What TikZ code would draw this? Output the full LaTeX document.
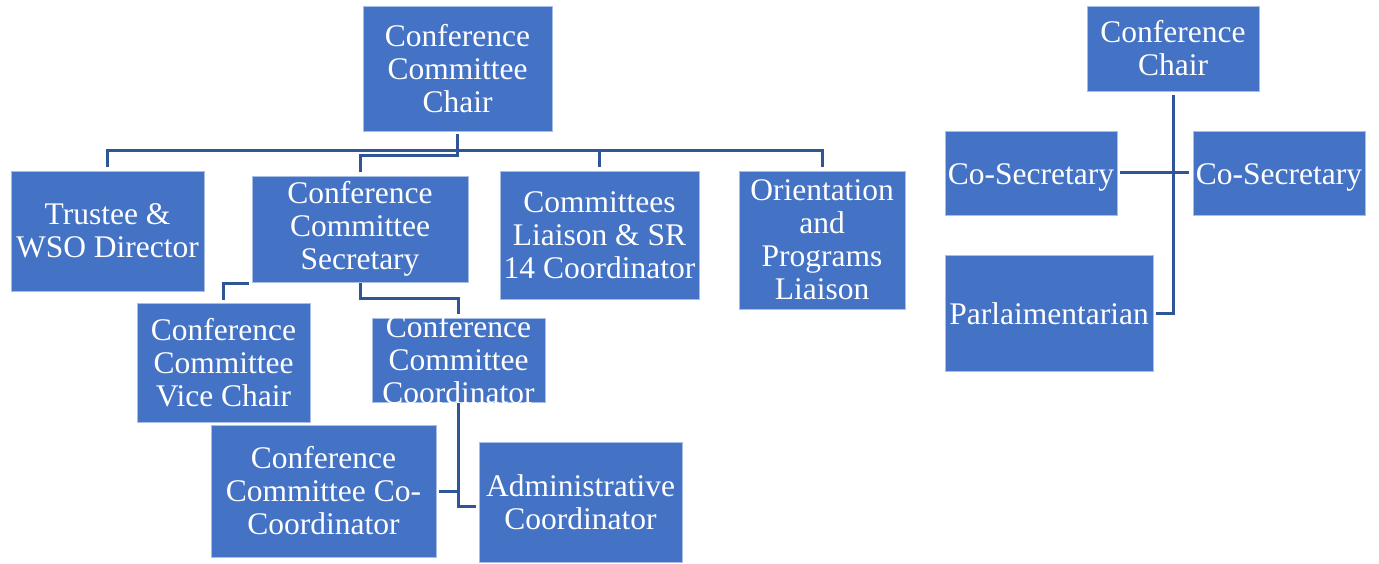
\documentclass[tikz,border=0pt]{standalone}
\usepackage{fontspec}
\setmainfont{Liberation Serif}
\usetikzlibrary{calc}
\definecolor{boxblue}{HTML}{4472C4}
\definecolor{boxedge}{HTML}{A9BEE6}
\definecolor{linkblue}{HTML}{2F5597}
\newcommand{\lowtext}[1]{\raisebox{-4pt}[\height][\depth]{#1}}
\tikzset{
  box/.style={draw=boxedge, line width=0.8pt, fill=boxblue, text=white,
    align=center, inner sep=0pt, font=\fontsize{31.5}{33}\selectfont},
  wh/.style 2 args={minimum width=#1pt, minimum height=#2pt},
  link/.style={draw=linkblue, line width=3pt},
}
\begin{document}
\begin{tikzpicture}[x=1pt, y=-1pt, line cap=butt]
  \useasboundingbox (0,0) rectangle (1379,564);
  % Left chart.
  \node[box, wh={189}{125}] (cchair) at (457.5,68.5) {Conference\\Committee\\Chair};
  \node[box, wh={193}{120}] (trustee) at (107.5,231) {Trustee \&\\WSO Director};
  \node[box, wh={216}{106}] (ccsec) at (360,229) {Conference\\Committee\\Secretary};
  \node[box, wh={199}{128}] (liaison) at (599.5,235) {Committees\\Liaison \& SR\\14 Coordinator};
  \node[box, wh={166}{138}] (orient) at (822,240) {Orientation\\and\\Programs\\Liaison};
  \node[box, wh={173}{119}] (vice) at (223.5,362.5) {Conference\\Committee\\Vice Chair};
  \node[box, wh={173}{84}, inner ysep=-6pt] (coord) at (458.5,360) {Conference\\Committee\\Coordinator};
  \node[box, wh={225}{132}] (cocoord) at (323.5,491) {Conference\\Committee Co-\\Coordinator};
  \node[box, wh={203}{120}] (admin) at (580.5,502) {Administrative\\Coordinator};
  % Right chart.
  \node[box, wh={172}{85}] (confchair) at (1173,48.5) {Conference\\Chair};
  \node[box, wh={172}{84}] (cosecL) at (1031,173) {\lowtext{Co-Secretary}};
  \node[box, wh={172}{84}] (cosecR) at (1279,173) {\lowtext{Co-Secretary}};
  \node[box, wh={208}{116}] (parl) at (1049,313.5) {Parlaimentarian};
  % Bus under the committee chair.
  \coordinate (bus) at (0,151);
  \draw[link] ([yshift=-3pt]cchair.south) -- (cchair.south |- bus);
  \draw[link] ([yshift=4pt]trustee.north) -- (trustee.north |- bus) -- (orient.north |- bus) -- ([yshift=4pt]orient.north);
  \draw[link] (liaison.north |- bus) -- ([yshift=4pt]liaison.north);
  \draw[link] ([yshift=-3pt]cchair.south) -- ++(0,21) -| ([yshift=4pt]ccsec.north);
  % Under the secretary.
  \draw[link] ([xshift=-3pt, yshift=-1pt]ccsec.south west) -| ([yshift=3pt]vice.north);
  \draw[link] ([yshift=-1pt]ccsec.south) -- ++(0,15) -| ([yshift=4pt]coord.north);
  \draw[link] ([yshift=-1pt]coord.south) |- ([xshift=-3pt, yshift=-4pt]admin.west);
  \draw[link] ([xshift=3pt]cocoord.east) -- (cocoord.east -| coord.south);
  % Right chart links.
  \draw[link] ([yshift=-4pt]confchair.south) -- (confchair.south |- parl.east) -- ([xshift=3pt]parl.east);
  \draw[link] ([xshift=3pt]cosecL.east) -- ([xshift=-4pt]cosecR.west);
\end{tikzpicture}
\end{document}
